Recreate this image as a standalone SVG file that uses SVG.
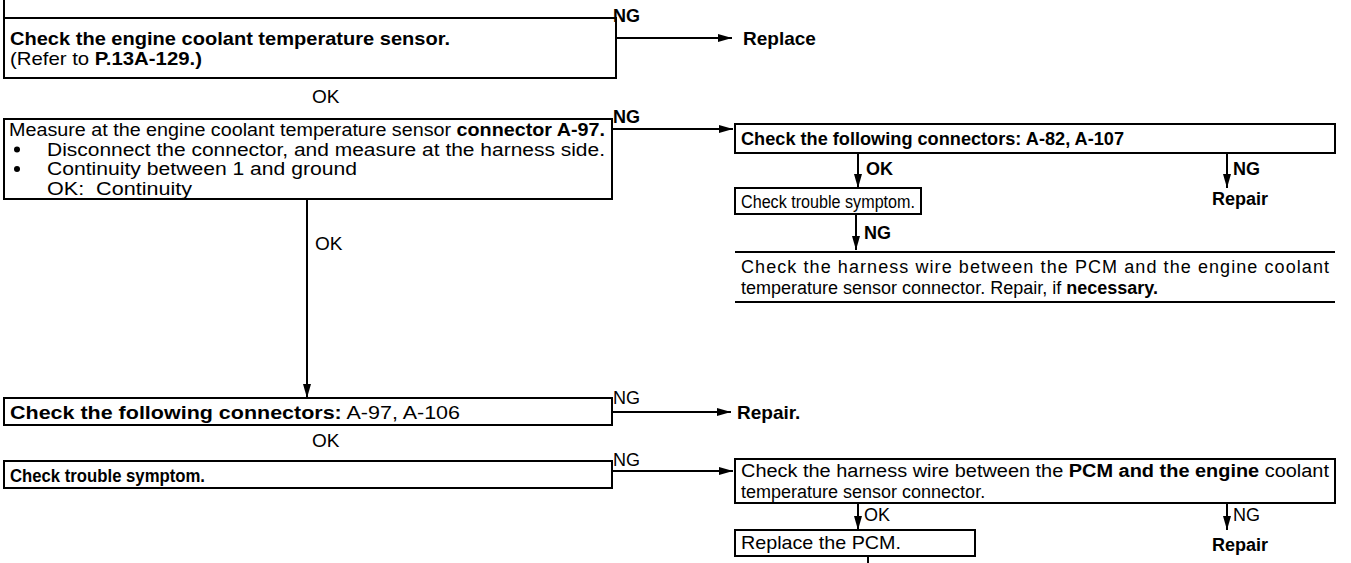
<svg xmlns="http://www.w3.org/2000/svg" width="1351" height="563" viewBox="0 0 1351 563">
<style>
text{font-family:"Liberation Sans",Arial,sans-serif;font-size:19px;fill:#000}
.b{font-weight:bold}
.box{fill:none;stroke:#000;stroke-width:2}
.ln{fill:none;stroke:#000;stroke-width:2}
.lbl{font-size:18px}
.m{font-size:17.5px}
.s{font-size:18px}
</style>
<defs>
<marker id="ah" viewBox="0 0 14 8" refX="14" refY="4" markerWidth="14" markerHeight="8" markerUnits="userSpaceOnUse" orient="auto">
<path d="M0,0 L14,4 L0,8 z" fill="#000"/>
</marker>
</defs>
<rect width="1351" height="563" fill="#fff"/>
<g id="connectors">
<line class="ln" x1="616" y1="38" x2="732" y2="38" marker-end="url(#ah)"/>
<line class="ln" x1="612" y1="129" x2="733" y2="129" marker-end="url(#ah)"/>
<line class="ln" x1="858" y1="153" x2="858" y2="188" marker-end="url(#ah)"/>
<line class="ln" x1="1227" y1="153" x2="1227" y2="188" marker-end="url(#ah)"/>
<line class="ln" x1="856" y1="214" x2="856" y2="250" marker-end="url(#ah)"/>
<line class="ln" x1="307" y1="199" x2="307" y2="398" marker-end="url(#ah)"/>
<line class="ln" x1="612" y1="412" x2="731" y2="412" marker-end="url(#ah)"/>
<line class="ln" x1="612" y1="471" x2="733" y2="471" marker-end="url(#ah)"/>
<line class="ln" x1="858" y1="503" x2="858" y2="530" marker-end="url(#ah)"/>
<line class="ln" x1="1227" y1="503" x2="1227" y2="530" marker-end="url(#ah)"/>
<line class="ln" x1="868" y1="556" x2="868" y2="563"/>
</g>
<g id="labels">
<text class="b lbl" x="613" y="22">NG</text>
<text class="b" x="743" y="45" font-size="20">Replace</text>
<text x="312" y="103">OK</text>
<text class="b lbl" x="613" y="123">NG</text>
<text x="315" y="250">OK</text>
<text class="b lbl" x="866" y="175">OK</text>
<text class="b lbl" x="1233" y="175">NG</text>
<text class="b lbl" x="1212" y="205">Repair</text>
<text class="b lbl" x="864" y="239">NG</text>
<text class="lbl" x="613" y="404">NG</text>
<text class="b" x="737" y="419">Repair.</text>
<text x="312" y="447">OK</text>
<text class="lbl" x="613" y="466">NG</text>
<text class="lbl" x="864" y="521">OK</text>
<text class="lbl" x="1233" y="521">NG</text>
<text class="b lbl" x="1212" y="551">Repair</text>
</g>
<g id="n1">
<line class="ln" x1="4" y1="0" x2="4" y2="18"/>
<rect class="box" x="4" y="18" width="612" height="60"/>
<text class="b" x="10" y="45" textLength="440" lengthAdjust="spacingAndGlyphs">Check the engine coolant temperature sensor.</text>
<text x="10" y="65" textLength="192" lengthAdjust="spacingAndGlyphs">(Refer to <tspan class="b">P.13A-129.)</tspan></text>
</g>
<g id="n2">
<rect class="box" x="4" y="119" width="608" height="80"/>
<text class="m" x="9" y="136" textLength="596" lengthAdjust="spacingAndGlyphs">Measure at the engine coolant temperature sensor <tspan class="b">connector A-97.</tspan></text>
<circle cx="17" cy="149.5" r="3"/>
<text class="m" x="47" y="155.5" textLength="558" lengthAdjust="spacingAndGlyphs">Disconnect the connector, and measure at the harness side.</text>
<circle cx="17" cy="169" r="3"/>
<text class="m" x="47" y="175" textLength="310" lengthAdjust="spacingAndGlyphs">Continuity between 1 and ground</text>
<text class="m" x="47" y="194.5" xml:space="preserve" textLength="145" lengthAdjust="spacingAndGlyphs">OK:  Continuity</text>
</g>
<g id="n3">
<rect class="box" x="735" y="124" width="600" height="29"/>
<text class="b" x="741" y="145" textLength="383" lengthAdjust="spacingAndGlyphs">Check the following connectors: A-82, A-107</text>
</g>
<g id="n4">
<rect class="box" x="735" y="188" width="186" height="26"/>
<text class="s" x="741" y="208" textLength="174" lengthAdjust="spacingAndGlyphs">Check trouble symptom.</text>
</g>
<g id="n5">
<line class="ln" x1="735" y1="252" x2="1335" y2="252"/>
<text class="s" x="741" y="273" textLength="588" lengthAdjust="spacing">Check the harness wire between the PCM and the engine coolant</text>
<text class="s" x="741" y="293.5">temperature sensor connector. Repair, if <tspan class="b">necessary.</tspan></text>
<line class="ln" x1="735" y1="302" x2="1335" y2="302"/>
</g>
<g id="n6">
<rect class="box" x="4" y="398" width="608" height="27"/>
<text x="10" y="419" textLength="450" lengthAdjust="spacingAndGlyphs"><tspan class="b">Check the following connectors:</tspan> A-97, A-106</text>
</g>
<g id="n7">
<rect class="box" x="4" y="461" width="608" height="27"/>
<text class="b" x="10" y="482" textLength="195" lengthAdjust="spacingAndGlyphs">Check trouble symptom.</text>
</g>
<g id="n8">
<rect class="box" x="735" y="459" width="600" height="44"/>
<text class="s" x="741" y="477" textLength="588" lengthAdjust="spacingAndGlyphs">Check the harness wire between the <tspan class="b">PCM and the engine</tspan> coolant</text>
<text class="s" x="741" y="497.5">temperature sensor connector.</text>
</g>
<g id="n9">
<rect class="box" x="735" y="530" width="240" height="26"/>
<text x="741" y="549" textLength="160" lengthAdjust="spacingAndGlyphs">Replace the PCM.</text>
</g>
</svg>
